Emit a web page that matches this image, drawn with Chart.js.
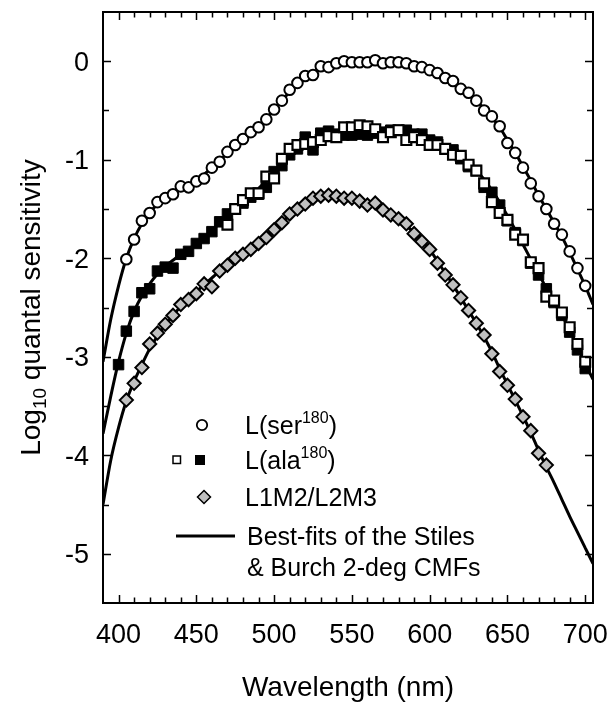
<!DOCTYPE html>
<html>
<head>
<meta charset="utf-8">
<script src="https://cdn.jsdelivr.net/npm/chart.js@4.4.1/dist/chart.umd.min.js"></script>
<style>
  html, body { margin: 0; padding: 0; background: #fff; }
  #wrap { width: 610px; height: 702px; }
</style>
</head>
<body>
<div id="wrap"><canvas id="c" width="610" height="702"></canvas></div>
<script>
// L(ser180) – open circles
const serWl = [405, 410, 415, 420, 425, 430, 435, 440, 445, 450, 455, 460, 465, 470, 475, 480, 485, 490, 495, 500,
  505, 510, 515, 520, 525, 530, 535, 540, 545, 550, 555, 560, 565, 570, 575, 580, 585, 590, 595, 600,
  605, 610, 615, 620, 625, 630, 635, 640, 645, 650, 655, 660, 665, 670, 675, 680, 685, 690, 695, 700];
const serVal = [-2.01, -1.81, -1.62, -1.54, -1.43, -1.39, -1.35, -1.27, -1.28, -1.22, -1.19, -1.08, -1.02, -0.92, -0.85, -0.79, -0.72, -0.67, -0.59, -0.49,
  -0.40, -0.29, -0.22, -0.15, -0.14, -0.05, -0.06, -0.02, 0.00, -0.01, -0.01, -0.01, 0.01, -0.02, -0.01, -0.01, -0.02, -0.05, -0.06, -0.09,
  -0.12, -0.17, -0.20, -0.28, -0.32, -0.40, -0.50, -0.56, -0.66, -0.83, -0.93, -1.08, -1.24, -1.37, -1.50, -1.65, -1.76, -1.93, -2.10, -2.28];

// L(ala180) – filled squares
const alaFilledWl = [400, 405, 410, 415, 420, 425, 430, 435, 440, 445, 450, 455, 460, 465, 470, 475, 480, 485, 490, 495,
  500, 505, 510, 515, 520, 525, 530, 535, 540, 545, 550, 555, 560, 565, 570, 575, 580, 585, 590, 595,
  600, 605, 610, 615, 620, 625, 630, 635, 640, 645, 650, 655, 660, 665, 670, 675, 680, 685, 690, 695, 700];
const alaFilledVal = [-3.08, -2.74, -2.54, -2.35, -2.31, -2.13, -2.09, -2.10, -1.96, -1.93, -1.85, -1.80, -1.73, -1.63, -1.55, -1.50, -1.44, -1.38, -1.35, -1.28,
  -1.12, -1.06, -0.95, -0.89, -0.77, -0.90, -0.73, -0.71, -0.74, -0.75, -0.75, -0.74, -0.75, -0.73, -0.72, -0.70, -0.70, -0.70, -0.74, -0.74,
  -0.80, -0.82, -0.89, -0.90, -0.99, -1.07, -1.11, -1.28, -1.33, -1.46, -1.62, -1.74, -1.82, -2.05, -2.17, -2.31, -2.45, -2.58, -2.75, -2.93, -3.12];

// L(ala180) – open squares
const alaOpenWl = [470, 475, 480, 485, 490, 495, 500, 505, 510, 515, 520, 525, 530, 535, 540, 545, 550, 555, 560, 565,
  570, 575, 580, 585, 590, 595, 600, 605, 610, 615, 620, 625, 630, 635, 640, 645, 650, 655, 660, 665,
  670, 675, 680, 685, 690, 695, 700];
const alaOpenVal = [-1.66, -1.50, -1.41, -1.34, -1.34, -1.17, -1.19, -0.99, -0.89, -0.85, -0.84, -0.82, -0.80, -0.76, -0.77, -0.67, -0.67, -0.65, -0.66, -0.69,
  -0.77, -0.72, -0.70, -0.80, -0.77, -0.80, -0.85, -0.85, -0.89, -0.95, -0.96, -1.05, -1.11, -1.24, -1.43, -1.54, -1.61, -1.76, -1.81, -2.04,
  -2.10, -2.39, -2.43, -2.55, -2.70, -2.87, -3.05];

// L1M2/L2M3 – grey diamonds
const hybWl = [405, 410, 415, 420, 425, 430, 435, 440, 445, 450, 455, 460, 465, 470, 475, 480, 485, 490, 495, 500,
  505, 510, 515, 520, 525, 530, 535, 540, 545, 550, 555, 560, 565, 570, 575, 580, 585, 590, 595, 600,
  605, 610, 615, 620, 625, 630, 635, 640, 645, 650, 655, 660, 665, 670, 675];
const hybVal = [-3.44, -3.27, -3.11, -2.87, -2.76, -2.67, -2.58, -2.47, -2.42, -2.36, -2.26, -2.29, -2.13, -2.07, -2.00, -1.96, -1.91, -1.85, -1.79, -1.71,
  -1.64, -1.55, -1.50, -1.45, -1.39, -1.37, -1.36, -1.37, -1.39, -1.39, -1.42, -1.46, -1.44, -1.51, -1.56, -1.60, -1.65, -1.75, -1.83, -1.91,
  -2.05, -2.17, -2.27, -2.40, -2.53, -2.66, -2.78, -2.97, -3.15, -3.29, -3.43, -3.61, -3.75, -3.98, -4.10];

// Stiles & Burch 2-deg CMF best fits
const fitWl = [390, 395, 400, 405, 410, 415, 420, 425, 430, 435, 440, 445, 450, 455, 460, 465, 470, 475, 480, 485,
  490, 495, 500, 505, 510, 515, 520, 525, 530, 535, 540, 545, 550, 555, 560, 565, 570, 575, 580, 585,
  590, 595, 600, 605, 610, 615, 620, 625, 630, 635, 640, 645, 650, 655, 660, 665, 670, 675, 680, 685,
  690, 695, 700, 705];
const fitSer = [-3.05, -2.62, -2.28, -2.00, -1.80, -1.65, -1.54, -1.45, -1.39, -1.34, -1.30, -1.26, -1.21, -1.15, -1.08, -1.01, -0.93, -0.86, -0.79, -0.72,
  -0.66, -0.58, -0.49, -0.40, -0.31, -0.23, -0.17, -0.12, -0.07, -0.04, -0.02, -0.01, 0.00, 0.00, 0.00, 0.00, -0.01, -0.01, -0.02, -0.03,
  -0.05, -0.07, -0.09, -0.12, -0.16, -0.21, -0.26, -0.32, -0.40, -0.48, -0.57, -0.67, -0.80, -0.93, -1.07, -1.21, -1.36, -1.50, -1.64, -1.78,
  -1.94, -2.11, -2.28, -2.47];
const fitAla = [-3.78, -3.40, -3.05, -2.76, -2.54, -2.38, -2.26, -2.16, -2.08, -2.02, -1.96, -1.91, -1.85, -1.79, -1.72, -1.64, -1.56, -1.48, -1.41, -1.35,
  -1.29, -1.21, -1.12, -1.03, -0.95, -0.88, -0.83, -0.79, -0.76, -0.74, -0.73, -0.72, -0.72, -0.71, -0.71, -0.71, -0.71, -0.71, -0.72, -0.73,
  -0.75, -0.77, -0.80, -0.83, -0.87, -0.92, -0.97, -1.04, -1.11, -1.20, -1.31, -1.43, -1.57, -1.71, -1.86, -2.01, -2.15, -2.31, -2.45, -2.58,
  -2.73, -2.90, -3.07, -3.23];
const fitHyb = [-4.50, -4.05, -3.72, -3.45, -3.25, -3.08, -2.92, -2.79, -2.68, -2.58, -2.49, -2.41, -2.34, -2.27, -2.20, -2.13, -2.07, -2.01, -1.96, -1.90,
  -1.84, -1.78, -1.71, -1.64, -1.56, -1.50, -1.45, -1.41, -1.38, -1.37, -1.37, -1.38, -1.40, -1.42, -1.45, -1.48, -1.52, -1.56, -1.61, -1.67,
  -1.74, -1.82, -1.91, -2.03, -2.15, -2.27, -2.40, -2.53, -2.66, -2.80, -2.95, -3.12, -3.28, -3.44, -3.60, -3.77, -3.95, -4.12, -4.28, -4.45,
  -4.62, -4.78, -4.94, -5.10];

const xTickLabels = [400, 450, 500, 550, 600, 650, 700];
const yTickLabels = [0, -1, -2, -3, -4, -5];

const FONT = '"Liberation Sans", Arial, sans-serif';
const pts = (xs, ys) => xs.map((x, i) => ({ x, y: ys[i] }));

const fitLine = (data) => ({
  type: 'line', data, borderColor: '#000', borderWidth: 3, pointRadius: 0,
  cubicInterpolationMode: 'monotone', fill: false, order: 10,
});

// frame, inward ticks, labels, titles and the legend box
const decor = {
  id: 'decor',
  afterDraw(chart) {
    const { ctx, chartArea: a, scales: { x, y } } = chart;
    ctx.save();
    ctx.strokeStyle = '#000';
    ctx.lineWidth = 2;
    ctx.strokeRect(a.left, a.top, a.right - a.left, a.bottom - a.top);

    ctx.lineWidth = 1.5;
    ctx.beginPath();
    for (let w = 400; w <= 700; w += 10) {
      const px = Math.round(x.getPixelForValue(w)) + 0.5;
      const len = w % 50 === 0 ? 8 : 5.5;
      ctx.moveTo(px, a.bottom); ctx.lineTo(px, a.bottom - len);
      ctx.moveTo(px, a.top); ctx.lineTo(px, a.top + len);
    }
    for (let v = -5; v <= 0; v += 0.5) {
      const py = Math.round(y.getPixelForValue(v)) + 0.5;
      const len = Number.isInteger(v) ? 8 : 6;
      ctx.moveTo(a.left, py); ctx.lineTo(a.left + len, py);
      ctx.moveTo(a.right, py); ctx.lineTo(a.right - len, py);
    }
    ctx.stroke();

    ctx.fillStyle = '#000';
    ctx.font = '27px ' + FONT;
    ctx.textAlign = 'center';
    ctx.textBaseline = 'alphabetic';
    xTickLabels.forEach(w => ctx.fillText(String(w), x.getPixelForValue(w), 643));
    ctx.textAlign = 'right';
    yTickLabels.forEach(v => ctx.fillText(String(v), 89, y.getPixelForValue(v) + 9.7));

    ctx.font = '28px ' + FONT;
    ctx.textAlign = 'center';
    ctx.fillText('Wavelength (nm)', (a.left + a.right) / 2, 696);

    // y title, rotated, with subscript 10
    ctx.save();
    ctx.translate(40, (a.top + a.bottom) / 2);
    ctx.rotate(-Math.PI / 2);
    const big = '28px ' + FONT, small = '19px ' + FONT;
    ctx.font = big; const w1 = ctx.measureText('Log').width;
    const w3 = ctx.measureText(' quantal sensitivity').width;
    ctx.font = small; const w2 = ctx.measureText('10').width;
    let sx = -(w1 + w2 + w3) / 2;
    ctx.textAlign = 'left';
    ctx.font = big; ctx.fillText('Log', sx, 0); sx += w1;
    ctx.font = small; ctx.fillText('10', sx, 6); sx += w2;
    ctx.font = big; ctx.fillText(' quantal sensitivity', sx, 0);
    ctx.restore();

    // legend
    const lf = '25px ' + FONT, sf = '16px ' + FONT;
    const tx = 245;
    const supText = (pre, sup, post, yy) => {
      let cx = tx;
      ctx.font = lf; ctx.fillText(pre, cx, yy); cx += ctx.measureText(pre).width;
      ctx.font = sf; ctx.fillText(sup, cx, yy - 11); cx += ctx.measureText(sup).width;
      ctx.font = lf; ctx.fillText(post, cx, yy);
    };
    ctx.textAlign = 'left';
    ctx.lineWidth = 1.8;
    // circle
    ctx.beginPath(); ctx.arc(202, 425, 5.2, 0, Math.PI * 2);
    ctx.fillStyle = '#fff'; ctx.fill(); ctx.stroke();
    ctx.fillStyle = '#000';
    supText('L(ser', '180', ')', 434);
    // squares
    ctx.lineWidth = 1.5;
    ctx.fillStyle = '#fff'; ctx.fillRect(173, 456, 7.5, 7.5); ctx.strokeRect(173, 456, 7.5, 7.5);
    ctx.fillStyle = '#000'; ctx.fillRect(195, 455, 10, 10);
    supText('L(ala', '180', ')', 469);
    // diamond
    ctx.beginPath();
    ctx.moveTo(204, 490.5); ctx.lineTo(210.5, 497); ctx.lineTo(204, 503.5); ctx.lineTo(197.5, 497); ctx.closePath();
    ctx.fillStyle = '#c0c0c0'; ctx.fill(); ctx.stroke();
    ctx.fillStyle = '#000';
    ctx.font = lf; ctx.fillText('L1M2/L2M3', tx, 506);
    // line
    ctx.lineWidth = 3;
    ctx.beginPath(); ctx.moveTo(176, 536); ctx.lineTo(235, 536); ctx.stroke();
    ctx.fillText('Best-fits of the Stiles', 247, 545);
    ctx.fillText('& Burch 2-deg CMFs', 247, 576);
    ctx.restore();
  },
};

new Chart(document.getElementById('c'), {
  type: 'scatter',
  data: {
    datasets: [
      { label: 'L(ser180)', data: pts(serWl, serVal), pointStyle: 'circle', pointRadius: 5.3,
        backgroundColor: '#fff', borderColor: '#000', borderWidth: 2, order: 1 },
      { label: 'L(ala180) open', data: pts(alaOpenWl, alaOpenVal), pointStyle: 'rect', pointRadius: 7,
        backgroundColor: '#fff', borderColor: '#000', borderWidth: 2.2, order: 2 },
      { label: 'L(ala180) filled', data: pts(alaFilledWl, alaFilledVal), pointStyle: 'rect', pointRadius: 7.4,
        backgroundColor: '#000', borderColor: '#000', borderWidth: 1, order: 3 },
      { label: 'L1M2/L2M3', data: pts(hybWl, hybVal), pointStyle: 'rectRot', pointRadius: 6.6,
        backgroundColor: '#c0c0c0', borderColor: '#000', borderWidth: 2, order: 1 },
      fitLine(pts(fitWl, fitSer)),
      fitLine(pts(fitWl, fitAla)),
      fitLine(pts(fitWl, fitHyb)),
    ],
  },
  options: {
    responsive: false,
    animation: false,
    devicePixelRatio: 1,
    layout: { padding: { top: 12, right: 17, left: 0, bottom: 0 } },
    plugins: { legend: { display: false }, tooltip: { enabled: false } },
    scales: {
      x: {
        type: 'linear', min: 390, max: 705,
        grid: { display: false, drawTicks: false }, border: { display: false },
        ticks: { display: false },
        afterFit: s => { s.height = 99; },
      },
      y: {
        type: 'linear', min: -5.5, max: 0.5,
        grid: { display: false, drawTicks: false }, border: { display: false },
        ticks: { display: false },
        afterFit: s => { s.width = 103; },
      },
    },
  },
  plugins: [decor],
});
</script>
</body>
</html>
